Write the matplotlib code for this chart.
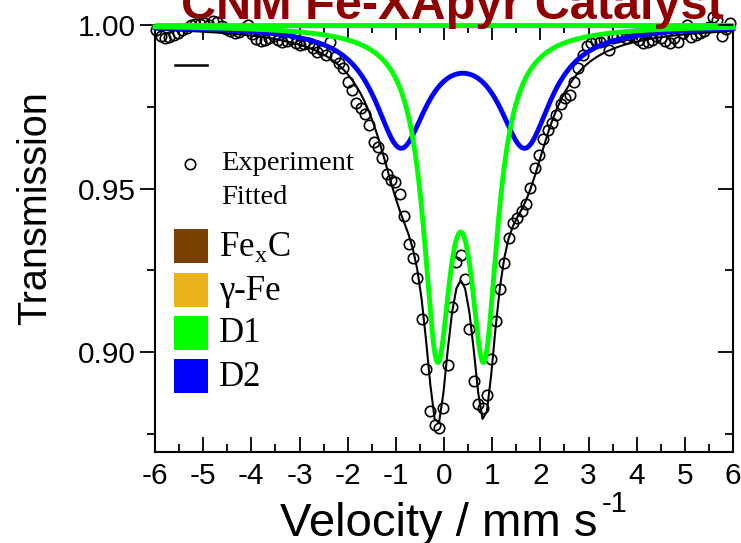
import numpy as np
import matplotlib
matplotlib.use("Agg")
import matplotlib.pyplot as plt
from matplotlib.ticker import MultipleLocator, FormatStrFormatter
from matplotlib.patches import Rectangle
from matplotlib.lines import Line2D

# ---------------- data ----------------
velocity = [
    -5.973, -5.883, -5.792, -5.702, -5.612, -5.521, -5.431, -5.341, -5.251, -5.160,
    -5.070, -4.980, -4.889, -4.799, -4.709, -4.619, -4.528, -4.438, -4.348, -4.257,
    -4.167, -4.077, -3.986, -3.896, -3.806, -3.716, -3.625, -3.535, -3.445, -3.354,
    -3.264, -3.174, -3.083, -2.993, -2.903, -2.813, -2.722, -2.632, -2.542, -2.451,
    -2.361, -2.271, -2.180, -2.090, -2.000, -1.910, -1.819, -1.729, -1.639, -1.548,
    -1.458, -1.368, -1.277, -1.187, -1.097, -1.007, -0.916, -0.826, -0.736, -0.645,
    -0.555, -0.465, -0.374, -0.284, -0.194, -0.104, -0.013, 0.077, 0.167, 0.258,
    0.348, 0.438, 0.529, 0.619, 0.709, 0.800, 0.890, 0.980, 1.070, 1.161,
    1.251, 1.341, 1.432, 1.522, 1.612, 1.702, 1.793, 1.883, 1.973, 2.064,
    2.154, 2.244, 2.335, 2.425, 2.515, 2.606, 2.696, 2.786, 2.876, 2.967,
    3.057, 3.147, 3.238, 3.328, 3.418, 3.508, 3.599, 3.689, 3.779, 3.870,
    3.960, 4.050, 4.141, 4.231, 4.321, 4.411, 4.502, 4.592, 4.682, 4.773,
    4.863, 4.953, 5.044, 5.134, 5.224, 5.314, 5.405, 5.495, 5.585, 5.676,
    5.766, 5.856, 5.947,
]
transmission = [
    0.9985, 0.9966, 0.9960, 0.9963, 0.9969, 0.9976, 0.9985, 0.9991, 1.0000, 1.0003,
    1.0003, 1.0006, 1.0000, 1.0012, 1.0009, 0.9997, 0.9988, 0.9982, 0.9976, 0.9979,
    0.9991, 1.0000, 0.9972, 0.9957, 0.9951, 0.9954, 0.9960, 0.9966, 0.9954, 0.9948,
    0.9951, 0.9957, 0.9945, 0.9939, 0.9942, 0.9945, 0.9930, 0.9917, 0.9924, 0.9908,
    0.9948, 0.9902, 0.9884, 0.9869, 0.9826, 0.9801, 0.9761, 0.9745, 0.9728, 0.9694,
    0.9643, 0.9628, 0.9592, 0.9546, 0.9526, 0.9521, 0.9485, 0.9417, 0.9330, 0.9287,
    0.9227, 0.9101, 0.8948, 0.8820, 0.8777, 0.8769, 0.8829, 0.8960, 0.9139, 0.9276,
    0.9297, 0.9225, 0.9072, 0.8911, 0.8843, 0.8828, 0.8869, 0.8978, 0.9096, 0.9192,
    0.9274, 0.9348, 0.9394, 0.9409, 0.9431, 0.9453, 0.9501, 0.9562, 0.9602, 0.9651,
    0.9679, 0.9701, 0.9725, 0.9758, 0.9777, 0.9786, 0.9826, 0.9869, 0.9908, 0.9936,
    0.9945, 0.9954, 0.9948, 0.9957, 0.9924, 0.9960, 0.9963, 0.9966, 0.9960, 0.9969,
    0.9963, 0.9954, 0.9945, 0.9948, 0.9954, 0.9966, 0.9960, 0.9951, 0.9945, 0.9960,
    0.9948, 0.9976, 1.0000, 0.9963, 0.9969, 0.9976, 0.9982, 0.9994, 1.0024, 1.0015,
    0.9966, 0.9988, 1.0006,
]

# Fitted doublet parameters:
# [isomer shift (centre), quadrupole splitting, half width, line depth]
D1_params = [0.345, 0.97, 0.35, 0.0924]
D2_params = [0.391, 2.58, 0.66, 0.0355]

legend_names = ["Fe$_\\mathregular{x}$C", "\u03b3-Fe", "D1", "D2"]
legend_colors = ["#7B3F00", "#EBB21E", "#00FF00", "#0000FF"]

title_text = "CNM Fe-XApyr Catalyst"
xlabel_main = "Velocity / mm s"
xlabel_sup = "-1"
ylabel_text = "Transmission"
xticks = [-6, -5, -4, -3, -2, -1, 0, 1, 2, 3, 4, 5, 6]
yticks = [0.90, 0.95, 1.00]


def doublet(v, p):
    c, qs, g, d = p
    v = np.asarray(v, dtype=float)
    return d * (g**2 / ((v - c + qs / 2) ** 2 + g**2) + g**2 / ((v - c - qs / 2) ** 2 + g**2))


# ---------------- figure ----------------
plt.rcParams["font.family"] = ["Liberation Sans", "DejaVu Sans"]
plt.rcParams["mathtext.fontset"] = "custom"
plt.rcParams["mathtext.rm"] = "Liberation Serif"

W, H = 741, 543
fig = plt.figure(figsize=(W / 100, H / 100), dpi=100)

L, R, T, B = 155, 733, 25, 452
ax = fig.add_axes([L / W, 1 - B / H, (R - L) / W, (B - T) / H])

v_fine = np.linspace(-6, 6, 1201)
d1 = 1 - doublet(v_fine, D1_params)
d2 = 1 - doublet(v_fine, D2_params)
v_ch = np.asarray(velocity)
fit = 1 - doublet(v_ch, D1_params) - doublet(v_ch, D2_params)

ax.plot(v_ch, transmission, linestyle="none", marker="o", ms=7.5, mfc="none",
        mec="black", mew=1.2, clip_on=False, zorder=3)
ax.plot(v_ch, fit, color="black", lw=1.5, zorder=4)
# zero-area components lying on the baseline
ax.plot([-6, 6], [0.9993, 0.9993], color="#2f5fd0", lw=1.0, zorder=4, clip_on=False)
ax.plot([-6, 6], [1.0, 1.0], color="#00FF00", lw=3.5, zorder=5, clip_on=False,
        solid_capstyle="butt")
ax.plot(v_fine, d2, color="#0000FF", lw=3.5, zorder=5, clip_on=False)
ax.plot(v_fine, d1, color="#00FF00", lw=3.5, zorder=6, clip_on=False)

ax.set_xlim(-6, 6)
ax.set_ylim(0.8695, 1.0)
ax.set_xticks(xticks)
ax.set_xticklabels([str(t) for t in xticks])
ax.xaxis.set_minor_locator(MultipleLocator(0.5))
ax.set_yticks(yticks)
ax.yaxis.set_major_formatter(FormatStrFormatter("%.2f"))
ax.yaxis.set_minor_locator(MultipleLocator(0.025))

for s in ax.spines.values():
    s.set_linewidth(1.5)

ax.tick_params(axis="x", which="both", direction="in", top=True, bottom=True,
               width=1.3, labelsize=21.5, pad=7)
ax.tick_params(axis="x", which="major", length=11)
ax.tick_params(axis="x", which="minor", length=5.5)
ax.tick_params(axis="y", which="both", direction="out", left=True, right=False,
               width=1.3, labelsize=21.5, pad=3)
ax.tick_params(axis="y", which="major", length=11)
ax.tick_params(axis="y", which="minor", length=6)

ax2 = ax.twinx()
ax2.set_ylim(ax.get_ylim())
ax2.set_yticks(yticks)
ax2.yaxis.set_minor_locator(MultipleLocator(0.025))
ax2.tick_params(axis="y", which="both", direction="in", width=1.3, labelright=False)
ax2.tick_params(axis="y", which="major", length=11)
ax2.tick_params(axis="y", which="minor", length=6)
for s in ax2.spines.values():
    s.set_visible(False)

# axis labels placed to match the reference
fig.text(280 / W, 1 - 536 / H, xlabel_main, fontsize=34, ha="left", va="baseline")
fig.text(602 / W, 1 - 512 / H, xlabel_sup, fontsize=21, ha="left", va="baseline")
fig.text(35 / W, 1 - 208 / H, ylabel_text, fontsize=28.5, rotation=90,
         ha="center", va="center")

# title (cut off at top)
fig.text(452 / W, 1 - 19 / H, title_text, ha="center", va="baseline",
         color="#8E0000", fontsize=35, fontweight="bold")

# legend (drawn manually to match the layout)
serif = ["Liberation Serif", "DejaVu Serif"]
fig.add_artist(Line2D([175 / W, 207 / W], [1 - 65 / H, 1 - 65 / H], color="black", lw=1.8))
fig.add_artist(Line2D([190 / W], [1 - 164 / H], marker="o", ms=7.5, mfc="none",
                      mec="black", mew=1.2, linestyle="none"))
fig.text(221 / W, 1 - 164 / H, "Experiment", family=serif, fontsize=20.5,
         ha="left", va="center")
fig.text(221 / W, 1 - 197 / H, "Fitted", family=serif, fontsize=20.5,
         ha="left", va="center")

ys = [229, 273, 316, 359]
for name, col, y0 in zip(legend_names, legend_colors, ys):
    fig.add_artist(Rectangle((174 / W, 1 - (y0 + 34) / H), 34 / W, 34 / H,
                             transform=fig.transFigure, facecolor=col, edgecolor="none"))
    fig.text(219 / W, 1 - (y0 + 18) / H, name, family=serif, fontsize=25,
             ha="left", va="center")

fig.savefig("out.png", dpi=100)
